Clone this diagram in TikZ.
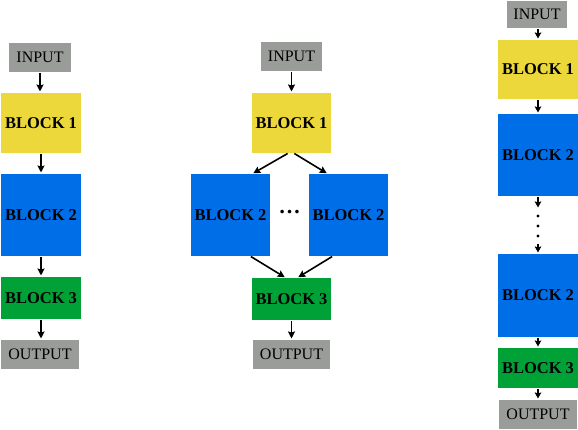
\documentclass[tikz,border=0pt]{standalone}
\usepackage{fontspec}
\setmainfont{Liberation Serif}
\usetikzlibrary{arrows.meta,calc}
\definecolor{gboxc}{RGB}{154,156,154}
\definecolor{yboxc}{RGB}{236,216,58}
\definecolor{bboxc}{RGB}{0,110,230}
\definecolor{grboxc}{RGB}{0,162,55}
\begin{document}
\begin{tikzpicture}[x=1pt,y=1pt,
  box/.style={inner sep=0pt, outer sep=0pt, font=\fontsize{16}{18}\selectfont},
  iobox/.style={box, fill=gboxc},
  blk/.style={box, font=\fontsize{16.5}{18}\selectfont\bfseries},
  yb/.style={blk, fill=yboxc, minimum width=80pt, minimum height=60pt},
  bb/.style={blk, fill=bboxc, minimum width=80pt, minimum height=82pt},
  gb/.style={blk, fill=grboxc, minimum width=80pt, minimum height=42pt},
  arr/.style={line width=1.6pt, -{Stealth[length=7pt,width=7pt,inset=1pt]}, shorten >=1.5pt, shorten <=1pt},
  sarr/.style={line width=1.6pt, -{Stealth[length=6pt,width=6.5pt,inset=1pt]}, shorten >=1.5pt, shorten <=1.5pt},
  dot/.style={circle, fill=black, inner sep=0pt, minimum size=3.4pt}
]
\useasboundingbox (0,0) rectangle (578,430);
% left column
\node[iobox, minimum width=62pt, minimum height=29pt] (inL) at (40,372.5) {INPUT};
\node[yb] (b1L) at (41,307) {BLOCK 1};
\node[bb] (b2L) at (41,215) {BLOCK 2};
\node[gb] (b3L) at (41,132) {BLOCK 3};
\node[iobox, minimum width=78pt, minimum height=29pt] (outL) at (40,75.5) {OUTPUT};
\draw[arr] (inL) -- (inL |- b1L.north);
\draw[arr] (b1L) -- (b2L);
\draw[arr] (b2L) -- (b3L);
\draw[arr] (b3L) -- (b3L |- outL.north);
% middle column
\node[iobox, minimum width=61pt, minimum height=29pt] (inM) at (291.5,373.5) {INPUT};
\node[yb, minimum width=79pt] (b1M) at (291.5,307) {BLOCK 1};
\node[bb, minimum width=79pt] (b2Ma) at (230.5,215) {BLOCK 2};
\node[bb, minimum width=79pt] (b2Mb) at (348.5,215) {BLOCK 2};
\node[box, font=\fontsize{22}{24}\selectfont\bfseries] (dotsM) at (289.5,218) {\ldots};
\node[gb, minimum width=79pt] (b3M) at (291.5,131) {BLOCK 3};
\node[iobox, minimum width=77pt, minimum height=29pt] (outM) at (291.5,75.5) {OUTPUT};
\draw[arr] (inM) -- (b1M);
\draw[arr] ($(b1M.south)+(-3,0)$) -- ($(b2Ma.north)+(21.5,0)$);
\draw[arr] ($(b1M.south)+(2,0)$) -- ($(b2Mb.north)+(-20.5,0)$);
\draw[arr] ($(b2Ma.south)+(19.5,0)$) -- ($(b3M.north)+(-5.5,0)$);
\draw[arr] ($(b2Mb.south)+(-15.5,0)$) -- ($(b3M.north)+(5.5,0)$);
\draw[arr] (b3M) -- (outM);
% right column
\node[iobox, minimum width=60pt, minimum height=27pt] (inR) at (537,415.5) {INPUT};
\node[yb, minimum height=59pt] (b1R) at (538,360.5) {BLOCK 1};
\node[bb] (b2Ra) at (538,275) {BLOCK 2};
\node[dot] (d1) at (538,214) {};
\node[dot] (d2) at (538,204) {};
\node[dot] (d3) at (538,194) {};
\coordinate (dT) at (538,221);
\coordinate (dB) at (538,187);
\node[bb, minimum height=83pt] (b2Rb) at (538,134.5) {BLOCK 2};
\node[gb, minimum height=40pt] (b3R) at (538,62) {BLOCK 3};
\node[iobox, minimum width=78pt, minimum height=29pt] (outR) at (538,15.5) {OUTPUT};
\draw[sarr] (b1R.north |- inR.south) -- (b1R.north);
\draw[sarr] (b1R) -- (b2Ra);
\draw[sarr] (b2Ra.south) -- (dT);
\draw[sarr] (dB) -- (b2Rb.north);
\draw[sarr] (b2Rb) -- (b3R);
\draw[sarr] (b3R) -- (outR);
\end{tikzpicture}
\end{document}
